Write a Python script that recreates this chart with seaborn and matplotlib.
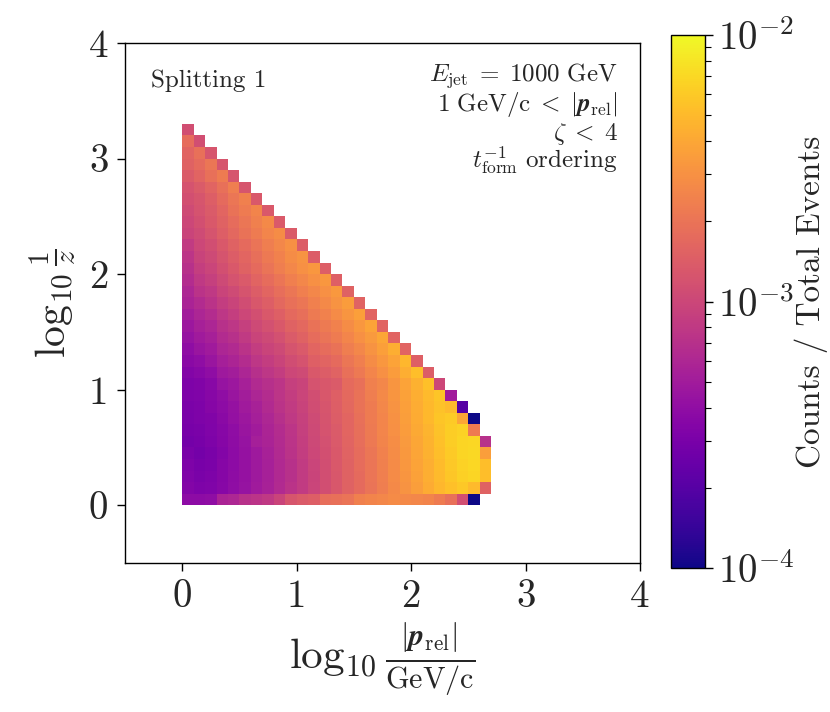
import numpy as np
import pandas as pd
import matplotlib
matplotlib.use('Agg')
import matplotlib.pyplot as plt
import matplotlib.ticker as mticker
from matplotlib.colors import LogNorm
import seaborn as sns

# binning (log10 |p_rel| on x, log10 1/z on y), 0.1 wide bins
bin_width = 0.1
x_lo, x_hi = -0.5, 4.0
y_lo, y_hi = -0.5, 4.0

# log10(counts / total events), one list per y bin (y bin r = [0.1 r, 0.1 r + 0.1])
# each list starts at the x bin [0, 0.1]
r00 = [-3.42, -3.42, -3.40, -3.25, -3.22, -3.15, -3.13, -3.10, -3.02, -2.90, -2.86, -2.84, -2.74,
       -2.72, -2.70, -2.62, -2.60, -2.58, -2.56, -2.57, -2.58, -2.60, -2.65, -2.72, -2.95, -4.20]
r01 = [-3.47, -3.50, -3.49, -3.45, -3.40, -3.36, -3.31, -3.26, -3.20, -3.14, -3.08, -3.01, -2.95,
       -2.89, -2.82, -2.76, -2.70, -2.64, -2.57, -2.51, -2.45, -2.38, -2.32, -2.27, -2.23, -2.30, -2.82]
r02 = [-3.49, -3.52, -3.50, -3.46, -3.41, -3.37, -3.32, -3.27, -3.21, -3.15, -3.08, -3.02, -2.95,
       -2.89, -2.82, -2.76, -2.69, -2.63, -2.56, -2.50, -2.43, -2.36, -2.30, -2.24, -2.19, -2.17, -2.28]
r03 = [-3.50, -3.53, -3.51, -3.46, -3.42, -3.37, -3.32, -3.27, -3.21, -3.15, -3.08, -3.01, -2.95,
       -2.88, -2.82, -2.75, -2.69, -2.62, -2.56, -2.49, -2.42, -2.36, -2.29, -2.23, -2.18, -2.16, -2.28]
r04 = [-3.52, -3.55, -3.52, -3.47, -3.42, -3.37, -3.32, -3.26, -3.20, -3.14, -3.07, -3.00, -2.94,
       -2.88, -2.81, -2.75, -2.68, -2.61, -2.55, -2.48, -2.41, -2.35, -2.28, -2.22, -2.17, -2.15, -2.45]
r05 = [-3.55, -3.53, -3.50, -3.46, -3.41, -3.36, -3.28, -3.25, -3.19, -3.13, -3.06, -2.99, -2.93,
       -2.87, -2.80, -2.74, -2.67, -2.60, -2.54, -2.47, -2.40, -2.34, -2.27, -2.21, -2.17, -2.16, -3.15]
r06 = [-3.53, -3.52, -3.49, -3.45, -3.40, -3.35, -3.30, -3.24, -3.18, -3.12, -3.05, -2.98, -2.92,
       -2.86, -2.79, -2.73, -2.66, -2.59, -2.53, -2.46, -2.39, -2.33, -2.26, -2.21, -2.18, -2.65]
r07 = [-3.52, -3.50, -3.48, -3.43, -3.38, -3.33, -3.28, -3.22, -3.16, -3.10, -3.04, -2.97, -2.91,
       -2.85, -2.79, -2.72, -2.65, -2.59, -2.52, -2.45, -2.38, -2.31, -2.25, -2.22, -2.40, -4.20]
r08 = [-3.51, -3.50, -3.46, -3.42, -3.37, -3.31, -3.26, -3.20, -3.14, -3.08, -3.03, -2.96, -2.90,
       -2.84, -2.78, -2.71, -2.65, -2.58, -2.51, -2.44, -2.37, -2.31, -2.26, -2.30, -3.70]
r09 = [-3.50, -3.49, -3.45, -3.40, -3.35, -3.29, -3.23, -3.18, -3.12, -3.07, -3.01, -2.95, -2.89,
       -2.83, -2.77, -2.71, -2.64, -2.57, -2.50, -2.43, -2.36, -2.30, -2.25, -3.30]
r10 = [-3.50, -3.48, -3.44, -3.36, -3.33, -3.27, -3.20, -3.16, -3.12, -3.05, -3.02, -2.92, -2.89,
       -2.86, -2.76, -2.72, -2.62, -2.58, -2.50, -2.42, -2.35, -2.27, -3.00]
r11 = [-3.47, -3.44, -3.40, -3.32, -3.29, -3.23, -3.16, -3.11, -3.07, -3.00, -2.97, -2.88, -2.85,
       -2.81, -2.72, -2.67, -2.59, -2.53, -2.46, -2.36, -2.28, -2.85]
r12 = [-3.43, -3.40, -3.35, -3.28, -3.24, -3.18, -3.11, -3.07, -3.02, -2.96, -2.92, -2.83, -2.80,
       -2.76, -2.68, -2.63, -2.55, -2.49, -2.42, -2.32, -2.83]
r13 = [-3.40, -3.35, -3.31, -3.23, -3.20, -3.14, -3.07, -3.02, -2.98, -2.91, -2.87, -2.79, -2.75,
       -2.71, -2.64, -2.58, -2.51, -2.44, -2.36, -2.80]
r14 = [-3.36, -3.31, -3.27, -3.19, -3.15, -3.09, -3.02, -2.98, -2.93, -2.86, -2.82, -2.75, -2.70,
       -2.65, -2.59, -2.53, -2.47, -2.40, -2.80]
r15 = [-3.33, -3.27, -3.23, -3.15, -3.11, -3.05, -2.98, -2.93, -2.88, -2.82, -2.78, -2.71, -2.66,
       -2.61, -2.55, -2.49, -2.42, -2.80]
r16 = [-3.29, -3.23, -3.18, -3.11, -3.06, -3.00, -2.94, -2.88, -2.83, -2.77, -2.73, -2.66, -2.61,
       -2.56, -2.50, -2.44, -2.80]
r17 = [-3.25, -3.19, -3.14, -3.07, -3.02, -2.96, -2.89, -2.84, -2.78, -2.72, -2.68, -2.62, -2.57,
       -2.51, -2.46, -2.81]
r18 = [-3.22, -3.14, -3.10, -3.02, -2.97, -2.91, -2.85, -2.79, -2.74, -2.68, -2.63, -2.58, -2.53,
       -2.48, -2.82]
r19 = [-3.18, -3.10, -3.05, -2.98, -2.92, -2.87, -2.80, -2.75, -2.69, -2.63, -2.58, -2.53, -2.49, -2.83]
r20 = [-3.15, -3.06, -3.01, -2.94, -2.88, -2.82, -2.76, -2.70, -2.64, -2.58, -2.53, -2.49, -2.84]
r21 = [-3.12, -3.03, -2.98, -2.91, -2.85, -2.79, -2.73, -2.67, -2.61, -2.55, -2.51, -2.85]
r22 = [-3.08, -3.00, -2.95, -2.88, -2.82, -2.76, -2.70, -2.64, -2.58, -2.53, -2.85]
r23 = [-3.02, -2.97, -2.91, -2.84, -2.78, -2.71, -2.65, -2.59, -2.55, -2.86]
r24 = [-3.00, -2.94, -2.88, -2.82, -2.75, -2.68, -2.62, -2.57, -2.87]
r25 = [-2.97, -2.92, -2.86, -2.79, -2.71, -2.65, -2.60, -2.88]
r26 = [-2.94, -2.90, -2.84, -2.76, -2.68, -2.62, -2.88]
r27 = [-2.92, -2.86, -2.80, -2.72, -2.64, -2.90]
r28 = [-2.86, -2.80, -2.72, -2.65, -2.90]
r29 = [-2.82, -2.76, -2.68, -2.90]
r30 = [-2.80, -2.72, -2.90]
r31 = [-2.75, -2.95]
r32 = [-2.95]

log_rows = [r00, r01, r02, r03, r04, r05, r06, r07, r08, r09, r10, r11, r12, r13, r14, r15, r16,
            r17, r18, r19, r20, r21, r22, r23, r24, r25, r26, r27, r28, r29, r30, r31, r32]

tick_values = [0, 1, 2, 3, 4]
cbar_ticks = [1e-4, 1e-3, 1e-2]
cbar_ticklabels = [r'$10^{-4}$', r'$10^{-3}$', r'$10^{-2}$']

# put the histogram on the full plotting grid (NaN = empty bin)
n_x = int(round((x_hi - x_lo) / bin_width))
n_y = int(round((y_hi - y_lo) / bin_width))
off_x = int(round((0 - x_lo) / bin_width))
off_y = int(round((0 - y_lo) / bin_width))
grid = np.full((n_y, n_x), np.nan)
for r, vals in enumerate(log_rows):
    grid[off_y + r, off_x:off_x + len(vals)] = 10.0 ** np.array(vals)

x_centers = np.round(x_lo + bin_width * (np.arange(n_x) + 0.5), 2)
y_centers = np.round(y_lo + bin_width * (np.arange(n_y) + 0.5), 2)
hist = pd.DataFrame(grid, index=y_centers, columns=x_centers)

sns.set_style('ticks')
plt.rcParams['font.family'] = 'serif'
plt.rcParams['font.serif'] = ['cmr10']
plt.rcParams['mathtext.fontset'] = 'cm'
plt.rcParams['axes.formatter.use_mathtext'] = True
plt.rcParams['axes.unicode_minus'] = False

fig = plt.figure(figsize=(8.3, 7.12), dpi=100)
ax = fig.add_axes([0.1506, 0.2093, 0.6205, 0.7303])
cax = fig.add_axes([0.8084, 0.2022, 0.041, 0.7486])

sns.heatmap(hist, ax=ax, cbar_ax=cax, cmap='plasma', norm=LogNorm(vmin=1e-4, vmax=1e-2),
            xticklabels=False, yticklabels=False)

ax.set_xlim(0, n_x)
ax.set_ylim(0, n_y)
for sp in ax.spines.values():
    sp.set_visible(True)
    sp.set_color('black')
    sp.set_linewidth(1.0)

def to_index(v, lo):
    return (v - lo) / bin_width

ax.set_xticks([to_index(t, x_lo) for t in tick_values])
ax.set_xticklabels([str(t) for t in tick_values])
ax.set_yticks([to_index(t, y_lo) for t in tick_values])
ax.set_yticklabels([str(t) for t in tick_values], rotation=0)
ax.tick_params(direction='out', length=6, width=1, labelsize=28, pad=6, color='black')

ax.set_xlabel(r'$\log_{10} \frac{|\mathbfit{p}_{\mathrm{rel}}|}{\mathrm{GeV/c}}$', fontsize=31, labelpad=4)
ax.set_ylabel(r'$\log_{10} \frac{1}{z}$', fontsize=30, labelpad=8)

ax.text(0.05, 0.915, 'Splitting 1', transform=ax.transAxes, fontsize=18, va='baseline', ha='left')
right_lines = [r'$E_{\mathrm{jet}}\;=\;1000\ \mathrm{GeV}$',
               r'$1\ \mathrm{GeV/c}\;<\;|\mathbfit{p}_{\mathrm{rel}}|$',
               r'$\zeta\;<\;4$',
               r'$t_{\mathrm{form}}^{-1}\ \mathrm{ordering}$']
right_y = [0.927, 0.870, 0.814, 0.758]
for txt, yy in zip(right_lines, right_y):
    ax.text(0.957, yy, txt, transform=ax.transAxes, fontsize=18, va='baseline', ha='right')

cb = ax.collections[0].colorbar
cb.outline.set_linewidth(1.0)
cb.outline.set_edgecolor('black')
cb.set_ticks(cbar_ticks)
cb.set_ticklabels(cbar_ticklabels)
cb.ax.yaxis.set_minor_locator(mticker.LogLocator(base=10, subs=np.arange(2, 10)))
cb.ax.yaxis.set_minor_formatter(mticker.NullFormatter())
cb.ax.tick_params(which='major', direction='out', length=6, width=1, labelsize=28, pad=3,
                  color='black')
cb.ax.tick_params(which='minor', direction='out', length=4, width=0.8, color='black')
cb.set_label('Counts / Total Events', fontsize=24, labelpad=0)

fig.savefig('out.png', dpi=100)
